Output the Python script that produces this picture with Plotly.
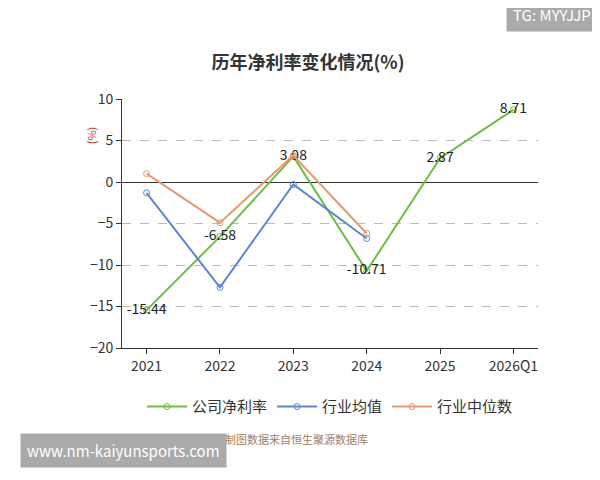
import plotly.graph_objects as go

years = ["2021", "2022", "2023", "2024", "2025", "2026Q1"]
company = [-15.44, -6.58, 3.08, -10.71, 2.87, 8.71]
industry_avg = [-1.3, -12.7, -0.3, -6.8]
industry_mid = [1.0, -4.9, 3.2, -6.2]

font = "Noto Sans CJK SC"
fig = go.Figure()
fig.add_trace(go.Scatter(
    x=years, y=company, name="公司净利率", mode="lines+markers+text",
    line=dict(color="#6cbf3f", width=2),
    marker=dict(symbol="circle-open", size=6, color="#6cbf3f"),
    text=[f"{v:.2f}" for v in company], textposition="middle center",
    textfont=dict(size=14, color="#222"),
))
fig.add_trace(go.Scatter(
    x=years[:4], y=industry_avg, name="行业均值", mode="lines+markers",
    line=dict(color="#5b86d0", width=2),
    marker=dict(symbol="circle-open", size=6, color="#5b86d0"),
))
fig.add_trace(go.Scatter(
    x=years[:4], y=industry_mid, name="行业中位数", mode="lines+markers",
    line=dict(color="#e59a72", width=2),
    marker=dict(symbol="circle-open", size=6, color="#e59a72"),
))

fig.update_layout(
    width=600, height=480, margin=dict(l=114, r=70, t=91, b=140),
    paper_bgcolor="white", plot_bgcolor="white",
    font=dict(family=font, size=14, color="#333"),
    title=dict(text="<b>历年净利率变化情况(%)</b>", x=0.5, y=0.9, xanchor="center",
               font=dict(size=18, color="#333")),
    xaxis=dict(showgrid=False, showline=True, linecolor="#333", ticks="outside",
               tickcolor="#333", ticklen=5),
    yaxis=dict(range=[-20, 10], dtick=5, showgrid=True, gridcolor="#bbb", griddash="dash",
               zeroline=True, zerolinecolor="#333", zerolinewidth=1,
               showline=True, linecolor="#333", ticks="outside", tickcolor="#333"),
    legend=dict(orientation="h", x=0.5, xanchor="center", y=-0.17, yanchor="top",
                font=dict(size=15), itemwidth=40),
    showlegend=True,
)
fig.add_annotation(text="(%)", textangle=-90, xref="paper", yref="paper", x=-0.1, y=0.9,
                   showarrow=False, font=dict(size=11, color="#c0392b"))
fig.add_annotation(text="TG: MYYJJPP", xref="paper", yref="paper", x=1.165, y=1.41,
                   xanchor="right", showarrow=False, bgcolor="#aaaaaa",
                   font=dict(color="white", size=15), borderpad=6)
fig.add_annotation(text="制图数据来自恒生聚源数据库", xref="paper", yref="paper", x=0.42, y=-0.405,
                   showarrow=False, font=dict(size=11, color="#a08060"))
fig.add_annotation(text="www.nm-kaiyunsports.com", xref="paper", yref="paper", x=-0.245, y=-0.48,
                   xanchor="left", showarrow=False, bgcolor="#aaaaaa",
                   font=dict(color="white", size=15), borderpad=6)
fig.write_html("out.html")
